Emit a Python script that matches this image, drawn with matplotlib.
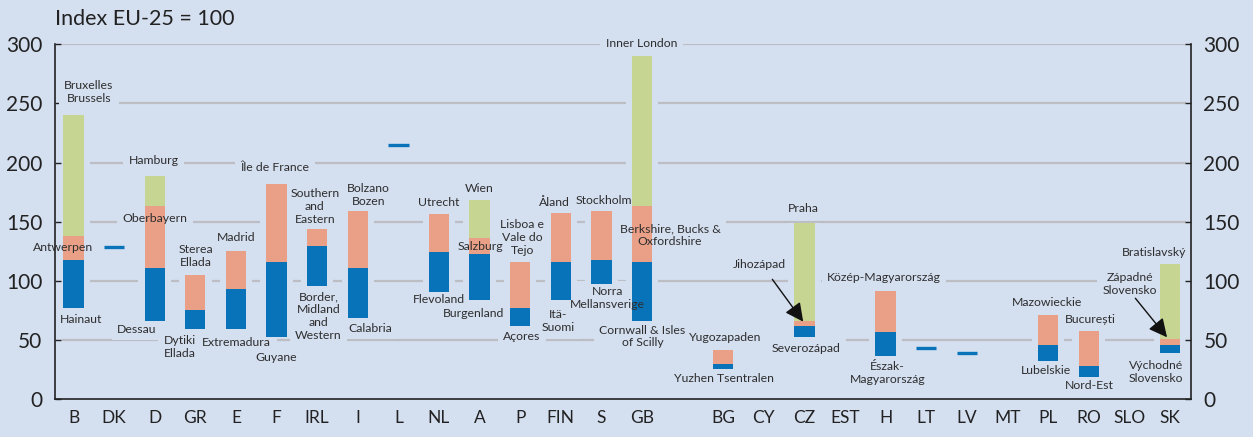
import matplotlib

matplotlib.use("Agg")

import matplotlib.pyplot as plt
import numpy as np

BG = "#d4dff0"
BLUE = "#0873b9"
SALMON = "#e9a087"
GREEN = "#c6d591"
GRID = "#bdbec4"
TEXT = "#2e2e2e"

plt.rcParams["font.family"] = ["Lato", "DejaVu Sans"]

# categories ("" = empty slot between EU-15 and new member states)
countries = ["B", "DK", "D", "GR", "E", "F", "IRL", "I", "L", "NL", "A", "P", "FIN", "S", "GB", "",
             "BG", "CY", "CZ", "EST", "H", "LT", "LV", "MT", "PL", "RO", "SLO", "SK"]
nan = np.nan
# lowest region
low = [77, nan, 66, 59.5, 59.5, 52.7, 95.8, 68.8, nan, 90.8, 84, 62, 84, 97.5, 66.2, nan,
       25.6, nan, 52.7, nan, 36.6, nan, nan, nan, 32.4, 18.9, nan, 39.2]
# national average (single value for one-region countries)
national = [117.6, 128.3, 110.8, 75.3, 93, 115.9, 129.4, 110.8, 214.5, 124.3, 122.6, 77, 115.9, 117.6, 115.9, nan,
            29.6, nan, 61.7, nan, 56.7, 42.8, 38.6, nan, 45.7, 27.9, nan, 45.7]
# second-highest region (or highest when no green segment)
second = [138, nan, 163.5, 104.9, 125.2, 181.8, 143.8, 159, nan, 156.5, 136.2, 115.9, 157.3, 159, 163.2, nan,
          41.4, nan, 65.8, nan, 91.3, nan, nan, nan, 71, 57.5, nan, 50.7]
# highest region
top = [240, nan, 188.6, nan, nan, nan, nan, nan, nan, nan, 168.3, nan, nan, nan, 290, nan,
       nan, nan, 149, nan, nan, nan, nan, nan, nan, nan, nan, 114.2]

# region labels: text, x (category slot), y (index value)
labels = [
    ("Bruxelles\nBrussels", 0.38, 259.7), ("Antwerpen", -0.26, 128.3), ("Hainaut", 0.19, 67.4),
    ("Hamburg", 1.98, 202.1), ("Oberbayern", 2.0, 152.8), ("Dessau", 1.56, 59),
    ("Sterea\nEllada", 3.01, 121.1), ("Dytiki\nEllada", 2.62, 44),
    ("Madrid", 4.0, 136.8), ("Extremadura", 4.02, 47.6),
    ("Île de France", 4.96, 196), ("Guyane", 4.99, 35.2),
    ("Southern\nand\nEastern", 5.94, 162.8), ("Border,\nMidland\nand\nWestern", 6.03, 70.2),
    ("Bolzano\nBozen", 7.27, 172.5), ("Calabria", 7.30, 59.8),
    ("Utrecht", 9.0, 166.4), ("Flevoland", 9.0, 84.3),
    ("Wien", 9.99, 177.9), ("Salzburg", 10.01, 128.8), ("Burgenland", 9.85, 72.2),
    ("Lisboa e\nVale do\nTejo", 11.05, 136.8), ("Açores", 11.04, 52.7),
    ("Åland", 11.84, 166.4), ("Itä-\nSuomi", 11.93, 65.8),
    ("Stockholm", 13.07, 167.5), ("Norra\nMellansverige", 13.14, 85.2),
    ("Inner London", 13.99, 300.5), ("Berkshire, Bucks &\nOxfordshire", 14.69, 138.4),
    ("Cornwall & Isles\nof Scilly", 14.01, 52.9),
    ("Yugozapaden", 16.05, 51.9), ("Yuzhen Tsentralen", 16.02, 17.5),
    ("Praha", 17.97, 161.5), ("Jihozápad", 16.88, 113.9), ("Severozápad", 18.04, 42.3),
    ("Közép-Magyarország", 19.96, 102.6), ("Észak-\nMagyarország", 20.05, 22.3),
    ("Mazowieckie", 23.97, 81.5), ("Lubelskie", 23.95, 24),
    ("București", 25.04, 67.4), ("Nord-Est", 25.01, 11),
    ("Bratislavský", 26.6, 123.7), ("Západné\nSlovensko", 26.02, 97.5),
    ("Východné\nSlovensko", 26.66, 22.6),
]

# arrows: (start x, start y) -> (tip x, tip y)
arrows = [((17.21, 101.2), (17.97, 65.4)), ((26.15, 85.2), (26.93, 52.2))]

x = np.arange(len(countries))
low, national, second, top = (np.array(a, dtype=float) for a in (low, national, second, top))
width = 0.5

fig = plt.figure(figsize=(12.53, 4.37), dpi=100, facecolor=BG)
ax = fig.add_axes([55 / 1253, 1 - 399 / 437, (1191 - 55) / 1253, (399 - 44.3) / 437])
ax.set_facecolor(BG)
ax.set_xlim(-0.456, 27.52)
ax.set_ylim(0, 300)

ax.hlines([50, 100, 150, 200, 250, 300], -0.29, 27.4, color=GRID, lw=1.6, zorder=1)

# background-coloured halo so the grid lines break around the bars
has_bar = ~np.isnan(low)
upper = np.fmax(second, np.nan_to_num(top))
ax.bar(x[has_bar], (upper - low)[has_bar], bottom=low[has_bar], width=0.8, color=BG, zorder=1.5)

ax.bar(x[has_bar], (national - low)[has_bar], bottom=low[has_bar], width=width, color=BLUE, zorder=3)
ax.bar(x[has_bar], (second - national)[has_bar], bottom=national[has_bar], width=width, color=SALMON, zorder=3)
has_top = ~np.isnan(top)
ax.bar(x[has_top], (top - second)[has_top], bottom=second[has_top], width=width, color=GREEN, zorder=3)

single = np.isnan(low) & ~np.isnan(national)
ax.hlines(national[single], x[single] - width / 2, x[single] + width / 2, color=BLUE, lw=2.4, zorder=3)

for text, lx, ly in labels:
    ax.text(lx, ly, text, ha="center", va="center", fontsize=8.8, color=BG, zorder=1.6,
            bbox=dict(boxstyle="square,pad=0.45", facecolor=BG, edgecolor="none"))
    ax.text(lx, ly, text, ha="center", va="center", fontsize=8.8, color=TEXT, zorder=5)

for start, tip in arrows:
    ax.annotate("", xy=tip, xytext=start, zorder=6,
                arrowprops=dict(arrowstyle="-|>,head_length=0.8,head_width=0.4", color="#111111",
                                lw=1.0, mutation_scale=14, shrinkA=0, shrinkB=0))

for side in ("left", "right", "bottom"):
    ax.spines[side].set_color("#222222")
    ax.spines[side].set_linewidth(1.2)
ax.spines["top"].set_visible(False)

ax.set_yticks([0, 50, 100, 150, 200, 250, 300])
ax.tick_params(axis="y", left=True, right=True, labelleft=True, labelright=True, direction="in",
               length=4, width=1, color="#222222", labelsize=15, labelcolor="#222222", pad=9)
ax.set_xticks(x)
ax.set_xticklabels(countries)
ax.tick_params(axis="x", length=0, labelsize=12.5, labelcolor="#222222", pad=8)

fig.text(55 / 1253, 1 - 19 / 437, "Index EU-25 = 100", ha="left", va="center", fontsize=15.5, color="#222222")

fig.savefig("out.png", dpi=100, facecolor=BG)
